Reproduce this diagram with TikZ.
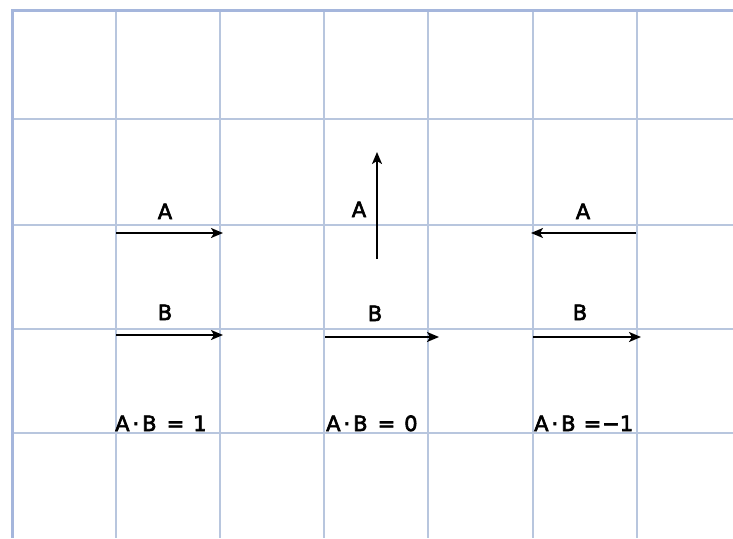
\documentclass[tikz,border=0pt]{standalone}
\usepackage{fontspec}
\setmainfont{DejaVu Sans}
\newfontfamily\labfont{DejaVu Sans}[FakeBold=3]
\usetikzlibrary{arrows.meta}
\definecolor{gridc}{RGB}{184,198,222}
\definecolor{borderc}{RGB}{165,182,220}
\begin{document}
\begin{tikzpicture}[x=1pt,y=-1pt,
  gridline/.style={draw=gridc,line width=1.4pt},
  borderline/.style={draw=borderc,line width=3pt},
  vec/.style={draw=black,line width=1.8pt,-{Stealth[length=12pt,width=10pt,inset=3pt]}},
  lbl/.style={font=\labfont\fontsize{21}{24}\selectfont,inner sep=0pt,anchor=base},
  res/.style={font=\labfont\fontsize{21}{24}\selectfont,inner sep=0pt,anchor=base west}]
\useasboundingbox (0,0) rectangle (733,538);
\fill[white] (0,0) rectangle (733,538);
% grid
\foreach \gx in {116,220,324,428,533,637} \draw[gridline] (\gx,10) -- (\gx,538);
\foreach \gy in {119,225,329,433} \draw[gridline] (12,\gy) -- (733,\gy);
\draw[borderline] (733,10) -- (12,10) -- (12,538);
% endpoints
\coordinate (la1) at (116,233); \coordinate (la2) at (223,233);
\coordinate (lb1) at (116,335); \coordinate (lb2) at (223,335);
\coordinate (ma1) at (377,259); \coordinate (ma2) at (377,152);
\coordinate (mb1) at (325,337); \coordinate (mb2) at (439,337);
\coordinate (ra1) at (636,233); \coordinate (ra2) at (531,233);
\coordinate (rb1) at (533,337); \coordinate (rb2) at (641,337);
% vectors
\draw[vec] (la1) -- (la2);
\draw[vec] (lb1) -- (lb2);
\draw[vec] (ma1) -- (ma2);
\draw[vec] (mb1) -- (mb2);
\draw[vec] (ra1) -- (ra2);
\draw[vec] (rb1) -- (rb2);
% labels
\node[lbl] (lA) at (165,219) {A};
\node[lbl] (lB) at (165,320) {B};
\node[lbl] (mA) at (359,217) {A};
\node[lbl] (mB) at (375,321) {B};
\node[lbl] (rA) at (583,219) {A};
\node[lbl] (rB) at (580,320) {B};
% results
\node[res] (lres) at (115,431) {A\hspace{3pt}·\hspace{3pt}B\hspace{10pt}=\hspace{9pt}1};
\node[res] (mres) at (326,431) {A\hspace{3pt}·\hspace{3pt}B\hspace{10pt}=\hspace{9pt}0};
\node[res] (rres) at (534,431) {A\hspace{3pt}·\hspace{3pt}B\hspace{8pt}=\hspace{1pt}−1};
\end{tikzpicture}
\end{document}
